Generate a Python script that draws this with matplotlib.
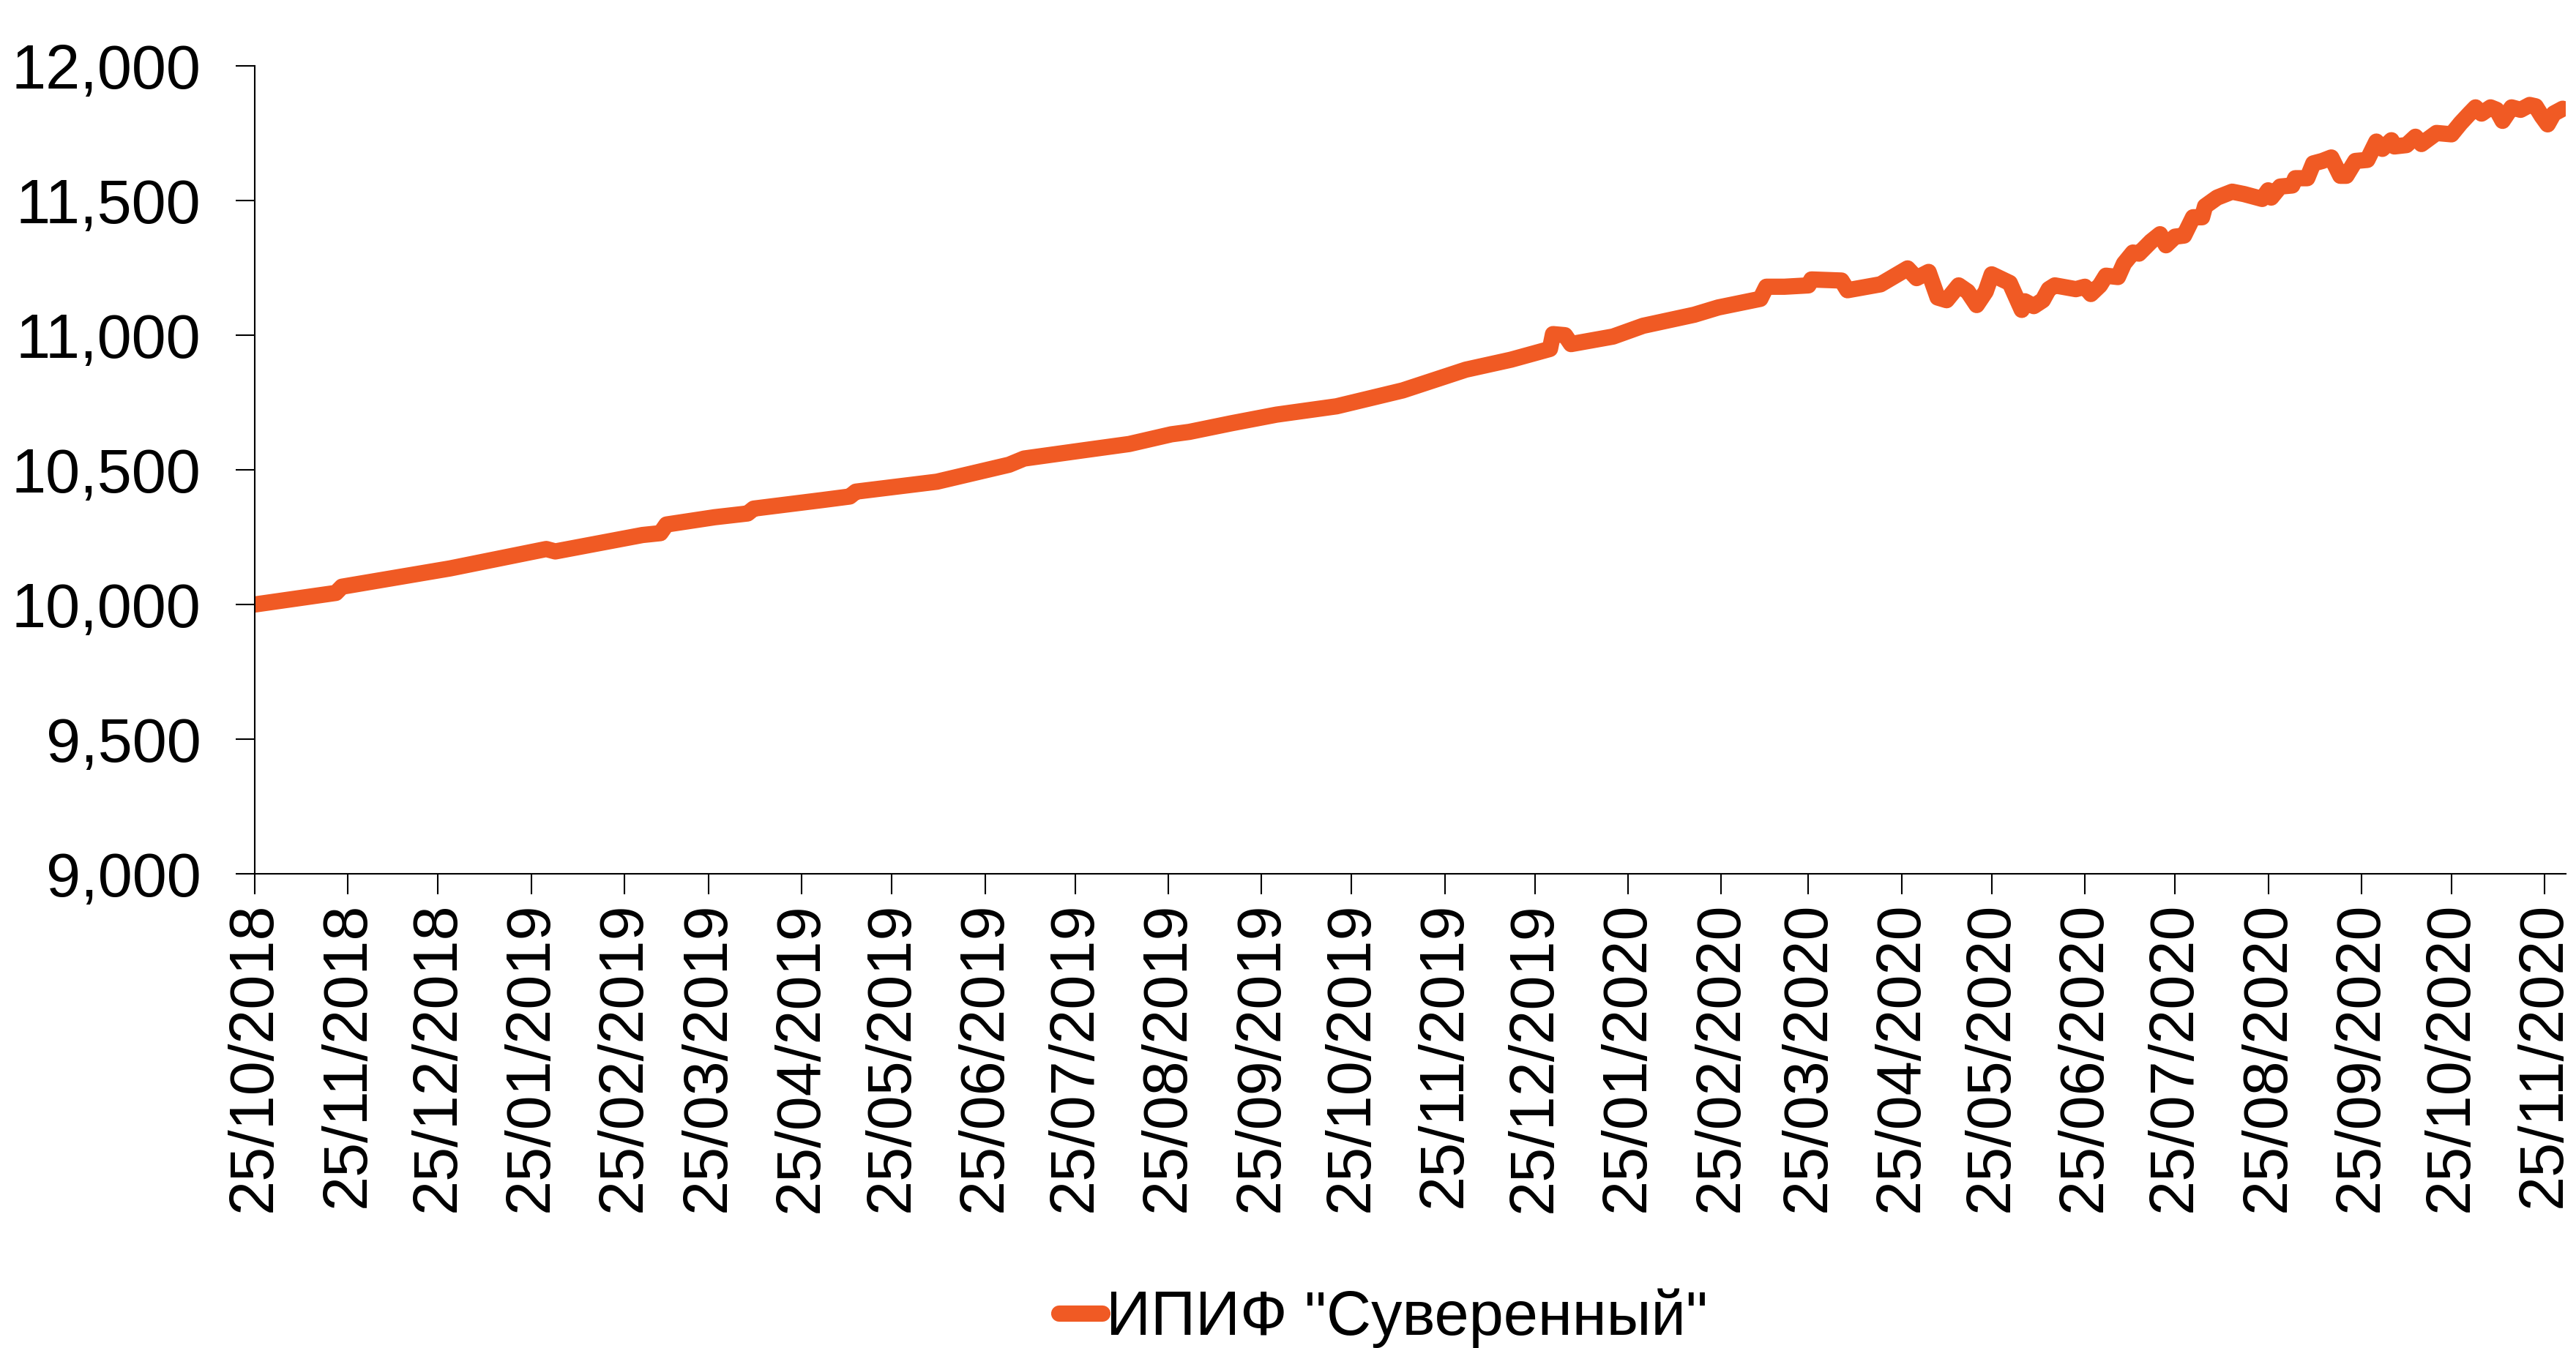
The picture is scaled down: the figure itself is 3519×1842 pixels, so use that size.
import matplotlib
matplotlib.use('Agg')
import matplotlib.pyplot as plt
import matplotlib.dates as mdates
import matplotlib.ticker as mticker
import pandas as pd

plt.rcParams['font.family'] = ['Liberation Sans', 'DejaVu Sans']

# fund value
dates = [
    '2018-10-25', '2018-11-21', '2018-11-23', '2018-12-29', '2019-01-30', '2019-02-02',
    '2019-03-03', '2019-03-09', '2019-03-11', '2019-03-27', '2019-04-07', '2019-04-09',
    '2019-05-02', '2019-05-11', '2019-05-13', '2019-06-09', '2019-07-03', '2019-07-08',
    '2019-07-28', '2019-08-12', '2019-08-26', '2019-09-01', '2019-09-15', '2019-09-30',
    '2019-10-20', '2019-11-11', '2019-12-02', '2019-12-17', '2019-12-30', '2019-12-31',
    '2020-01-04', '2020-01-06', '2020-01-20', '2020-01-30', '2020-02-16', '2020-02-24',
    '2020-03-09', '2020-03-11', '2020-03-17', '2020-03-25', '2020-03-26', '2020-04-05',
    '2020-04-07', '2020-04-18', '2020-04-27', '2020-04-30', '2020-05-04', '2020-05-07',
    '2020-05-10', '2020-05-14', '2020-05-17', '2020-05-20', '2020-05-23', '2020-05-25',
    '2020-05-31', '2020-06-04', '2020-06-05', '2020-06-08', '2020-06-11', '2020-06-13',
    '2020-06-15', '2020-06-22', '2020-06-25', '2020-06-27', '2020-06-30', '2020-07-02',
    '2020-07-06', '2020-07-08', '2020-07-11', '2020-07-13', '2020-07-17', '2020-07-20',
    '2020-07-22', '2020-07-25', '2020-07-28', '2020-07-31', '2020-08-03', '2020-08-04',
    '2020-08-08', '2020-08-13', '2020-08-17', '2020-08-23', '2020-08-25', '2020-08-26',
    '2020-08-29', '2020-09-02', '2020-09-03', '2020-09-07', '2020-09-09', '2020-09-12',
    '2020-09-15', '2020-09-18', '2020-09-20', '2020-09-23', '2020-09-27', '2020-09-30',
    '2020-10-02', '2020-10-05', '2020-10-06', '2020-10-10', '2020-10-13', '2020-10-15',
    '2020-10-20', '2020-10-25', '2020-10-28', '2020-10-31', '2020-11-02', '2020-11-04',
    '2020-11-07', '2020-11-09', '2020-11-11', '2020-11-14', '2020-11-17', '2020-11-20',
    '2020-11-22', '2020-11-24', '2020-11-26', '2020-11-28', '2020-12-01',
]
values = [
    10000, 10043, 10066, 10134, 10206, 10197,
    10258, 10265, 10297, 10324, 10338, 10356,
    10388, 10401, 10419, 10456, 10519, 10542,
    10573, 10596, 10632, 10641, 10673, 10705,
    10736, 10795, 10872, 10909, 10949, 11004,
    11000, 10967, 10995, 11035, 11076, 11103,
    11135, 11180, 11180, 11185, 11207, 11203,
    11167, 11189, 11248, 11212, 11235, 11140,
    11130, 11185, 11162, 11112, 11162, 11226,
    11194, 11094, 11126, 11108, 11130, 11171,
    11185, 11171, 11180, 11153, 11185, 11221,
    11216, 11266, 11307, 11303, 11348, 11375,
    11334, 11366, 11370, 11438, 11438, 11479,
    11511, 11533, 11524, 11506, 11538, 11511,
    11552, 11556, 11583, 11583, 11638, 11647,
    11660, 11592, 11592, 11647, 11651, 11719,
    11692, 11724, 11701, 11706, 11737, 11710,
    11751, 11746, 11787, 11823, 11846, 11823,
    11846, 11837, 11796, 11846, 11837, 11855,
    11850, 11814, 11783, 11823, 11841,
]
series_name = 'ИПИФ "Суверенный"'
x_start, x_end = '2018-10-25', '2020-12-02'
y_ticks = [9000, 9500, 10000, 10500, 11000, 11500, 12000]

FS = 61
ORANGE = '#F05A24'

fig = plt.figure(figsize=(35.19, 18.42), dpi=100)
ax = fig.add_axes([0.0989, 0.3518, 0.8971, 0.5993])

ax.plot(pd.to_datetime(dates), values, color=ORANGE, linewidth=16,
        solid_capstyle='round', solid_joinstyle='round', label=series_name)

ax.set_xlim(pd.Timestamp(x_start), pd.Timestamp(x_end))
ax.set_ylim(y_ticks[0], y_ticks[-1])
ax.set_yticks(y_ticks)
ax.yaxis.set_major_formatter(mticker.FuncFormatter(lambda v, p: f'{v:,.0f}'))
ax.xaxis.set_major_locator(mdates.MonthLocator(bymonthday=25))
ax.xaxis.set_major_formatter(mdates.DateFormatter('%d/%m/%Y'))

for lbl in ax.get_xticklabels():
    lbl.set_rotation(90)

ax.spines['top'].set_visible(False)
ax.spines['right'].set_visible(False)
ax.spines['left'].set_linewidth(1.5)
ax.spines['bottom'].set_linewidth(1.5)
ax.tick_params(axis='y', length=19, width=1.5, pad=34, labelsize=FS)
ax.tick_params(axis='x', length=20, width=1.5, pad=8, labelsize=FS)

fig.legend(loc='center', bbox_to_anchor=(0.537, 0.022), frameon=False,
           fontsize=FS, handlelength=0.7, handletextpad=0.05, borderpad=0)

fig.savefig('out.png', dpi=100)
